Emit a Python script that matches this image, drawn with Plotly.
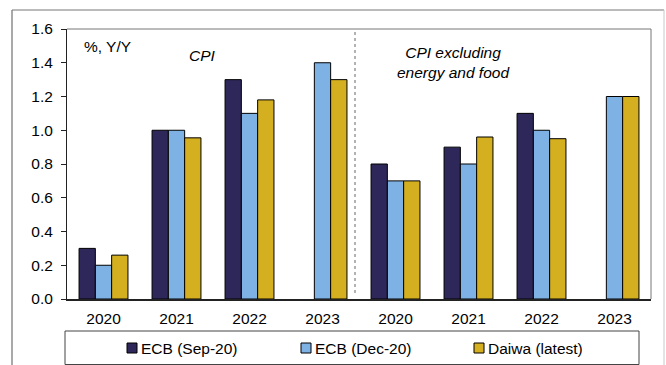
import plotly.graph_objects as go

# Forecast comparison: headline CPI and core CPI (ex energy & food), % Y/Y
years = ["2020", "2021", "2022", "2023", "2020", "2021", "2022", "2023"]
series_names = ["ECB (Sep-20)", "ECB (Dec-20)", "Daiwa (latest)"]
ecb_sep20 = [0.3, 1.0, 1.3, None, 0.8, 0.9, 1.1, None]
ecb_dec20 = [0.2, 1.0, 1.1, 1.4, 0.7, 0.8, 1.0, 1.2]
daiwa_latest = [0.26, 0.955, 1.18, 1.3, 0.7, 0.96, 0.95, 1.2]
colors = ["#2D2859", "#7FB2E4", "#D4AF1F"]

W, H = 666, 365
L, R, T, B = 67, 651, 29, 299   # plot area in pixels
FONT = "Liberation Sans, Arial, sans-serif"
FS = 15.5


def px(x):
    return (x - L) / (R - L)


def py(y):
    return (B - y) / (B - T)


xs = list(range(len(years)))
fig = go.Figure()
for name, vals, col in zip(series_names, [ecb_sep20, ecb_dec20, daiwa_latest], colors):
    fig.add_trace(go.Bar(
        x=xs, y=vals, name=name, marker_color=col,
        marker_line=dict(color="black", width=1),
        showlegend=False,
    ))

shapes = []
# outer frame
shapes.append(dict(type="line", xref="paper", yref="paper", x0=px(12), x1=px(12), y0=py(10), y1=py(370),
                   line=dict(color="#555555", width=1)))
shapes.append(dict(type="line", xref="paper", yref="paper", x0=px(12), x1=px(664), y0=py(10), y1=py(10),
                   line=dict(color="#777777", width=1)))
shapes.append(dict(type="line", xref="paper", yref="paper", x0=px(664), x1=px(664), y0=py(10), y1=py(370),
                   line=dict(color="#C8C8C8", width=1)))
# plot area top and right border
shapes.append(dict(type="line", xref="paper", yref="paper", x0=0, x1=1, y0=1, y1=1,
                   line=dict(color="#777777", width=1)))
shapes.append(dict(type="line", xref="paper", yref="paper", x0=1, x1=1, y0=0, y1=1,
                   line=dict(color="#777777", width=1)))
# separator between headline and core panels
shapes.append(dict(type="line", xref="paper", yref="paper", x0=px(355), x1=px(355), y0=py(293), y1=1,
                   line=dict(color="#666666", width=1, dash="dot")))
# legend box
shapes.append(dict(type="rect", xref="paper", yref="paper", x0=px(65), x1=px(639), y0=py(331), y1=py(364.5),
                   line=dict(color="#444444", width=1), fillcolor="white"))

annotations = []
legend_x = [127, 301, 474]
for name, col, lx in zip(series_names, colors, legend_x):
    shapes.append(dict(type="rect", xref="paper", yref="paper",
                       x0=px(lx), x1=px(lx + 10), y0=py(343), y1=py(353),
                       line=dict(color="black", width=1), fillcolor=col))
    annotations.append(dict(xref="paper", yref="paper", x=px(lx + 12), y=py(348), text=name,
                            showarrow=False, xanchor="left", yanchor="middle",
                            font=dict(family=FONT, size=FS, color="black")))

annotations.append(dict(xref="paper", yref="paper", x=px(82), y=py(46), text="%, Y/Y",
                        showarrow=False, xanchor="left", yanchor="middle",
                        font=dict(family=FONT, size=FS, color="black")))
annotations.append(dict(xref="paper", yref="paper", x=px(202), y=py(56), text="<i>CPI</i>",
                        showarrow=False, xanchor="center", yanchor="middle",
                        font=dict(family=FONT, size=FS, color="black")))
annotations.append(dict(xref="paper", yref="paper", x=px(453), y=py(62),
                        text="<i>CPI excluding<br>energy and food</i>",
                        showarrow=False, xanchor="center", yanchor="middle",
                        font=dict(family=FONT, size=FS, color="black")))

fig.update_layout(
    width=W, height=H,
    margin=dict(l=L, r=W - R, t=T, b=H - B),
    paper_bgcolor="white", plot_bgcolor="white",
    barmode="group", bargap=0.33, bargroupgap=0,
    font=dict(family=FONT, size=FS, color="black"),
    shapes=shapes, annotations=annotations,
    xaxis=dict(
        tickvals=xs, ticktext=years, range=[-0.5, len(years) - 0.5],
        showgrid=False, zeroline=False, showline=True, linecolor="#222222", linewidth=2,
        ticks="", ticklabelstandoff=4, tickfont=dict(size=FS),
    ),
    yaxis=dict(
        range=[0, 1.6], dtick=0.2, tickformat=".1f",
        showgrid=False, zeroline=False, showline=True, linecolor="#222222", linewidth=1,
        ticks="outside", ticklen=5, tickcolor="#222222", ticklabelstandoff=5,
        tickfont=dict(size=FS),
    ),
)

fig.write_html("out.html")
